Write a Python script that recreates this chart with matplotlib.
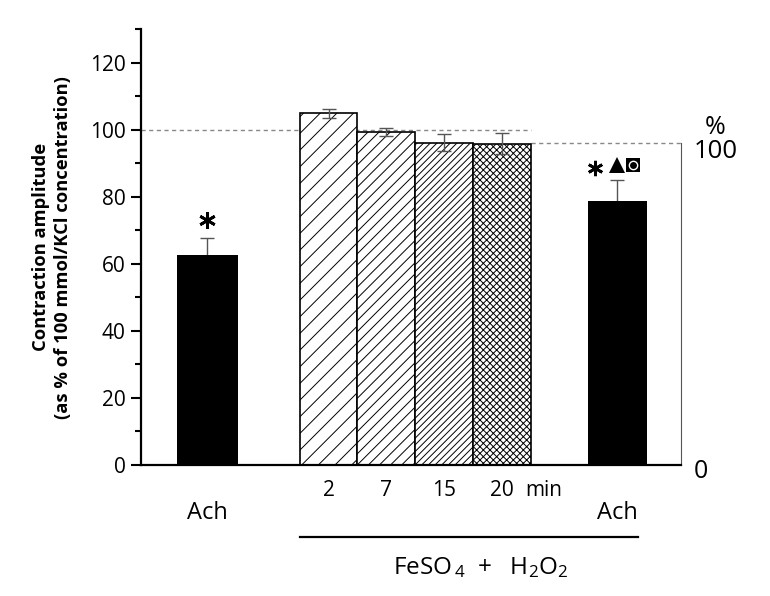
import matplotlib
matplotlib.use("Agg")
import matplotlib.pyplot as plt
import numpy as np

# ---- data ----
categories = ["Ach", "2", "7", "15", "20", "Ach"]
values = [62.5, 104.9, 99.3, 96.2, 95.9, 78.7]
errors = [5.1, 1.4, 1.3, 2.6, 3.2, 6.2]
yticks = [0, 20, 40, 60, 80, 100, 120]
ref_left = 100
ref_right = 96

# ---- style ----
positions = [0, 2.1, 3.1, 4.1, 5.1, 7.1]
widths = [1.06, 1.0, 1.0, 1.0, 1.0, 1.02]
hatches = [None, "//", "///", "/////", "xxxxx", None]
faces = ["black", "white", "white", "white", "white", "black"]

plt.rcParams["font.family"] = ["Open Sans", "DejaVu Sans"]
plt.rcParams["mathtext.default"] = "regular"
plt.rcParams["hatch.linewidth"] = 0.7
plt.rcParams["hatch.color"] = "#333333"

fig = plt.figure(figsize=(7.70, 5.96), dpi=100)
ax = fig.add_axes([0.183, 0.2198, 0.701, 0.7312])
ax.set_xlim(-1.15, 8.2)
ax.set_ylim(0, 130)

# error bars behind black bars
for i in (0, 5):
    ax.errorbar(positions[i], values[i], yerr=errors[i], fmt="none",
                ecolor="#555555", elinewidth=1, capsize=5, capthick=1, zorder=1)

for p, v, w, h, f in zip(positions, values, widths, hatches, faces):
    ax.bar(p, v, width=w, color=f, edgecolor="black", hatch=h,
           linewidth=1.2 if h else 0, zorder=2)

for i in (1, 2, 3, 4):
    ax.errorbar(positions[i], values[i], yerr=errors[i], fmt="none",
                ecolor="#555555", elinewidth=1, capsize=5, capthick=1, zorder=3)

# reference dashed lines
ax.plot([-1.15, positions[4] + 0.5], [ref_left, ref_left], ls=(0, (3, 2.5)),
        color="#888888", lw=1, zorder=0.5)
ax.plot([positions[4] + 0.5, 8.2], [ref_right, ref_right], ls=(0, (3, 2.5)),
        color="#888888", lw=1, zorder=0.5)

# spines
ax.spines["top"].set_visible(False)
ax.spines["left"].set_linewidth(1.6)
ax.spines["bottom"].set_linewidth(1.6)
ax.spines["right"].set_bounds(0, ref_right)
ax.spines["right"].set_linewidth(0.8)
ax.spines["right"].set_color("#555555")

ax.set_yticks(yticks)
ax.set_yticks(np.arange(0, 131, 10), minor=True)
ax.tick_params(axis="y", which="major", length=7, width=1.5, labelsize=15, pad=4)
ax.tick_params(axis="y", which="minor", length=4, width=1.5)
ax.set_xticks([])

ax.set_ylabel("Contraction amplitude\n(as % of 100 mmol/KCl concentration)",
              fontsize=13.2, fontweight="bold", labelpad=13, linespacing=1.25)

# category labels
label_y = {0: -14.2, 5: -14.2}
for i, c in enumerate(categories):
    y = label_y.get(i, -7.5)
    fs = 17 if i in label_y else 15
    ax.text(positions[i], y, c, ha="center", va="center", fontsize=fs, clip_on=False)
ax.text(positions[4] + 0.72, -7.5, "min", ha="center", va="center", fontsize=15, clip_on=False)

# group line and label
ax.plot([positions[1] - 0.5, 7.46], [-21.4, -21.4], color="black", lw=1.6, clip_on=False)
ax.text(4.74, -30.5, r"FeSO$_{\,4}$  +   H$_2$O$_2$", ha="center", va="center",
        fontsize=17.5, clip_on=False)

# right scale labels
ax.text(8.42, -1.8, "0", ha="left", va="center", fontsize=18, clip_on=False)
ax.text(8.42, 93.5, "100", ha="left", va="center", fontsize=18.5, clip_on=False)
ax.text(8.80, 100.8, "%", ha="center", va="center", fontsize=18, clip_on=False)

# significance marks
ax.plot(positions[0], 73, marker=(6, 2, 0), ms=12, mew=2.0, color="black", clip_on=False)
ax.plot(positions[5] - 0.38, 88.7, marker=(6, 2, 0), ms=11, mew=2.0, color="black")
ax.plot(positions[5], 89.6, marker="^", ms=12, color="black", mew=0)
ax.plot(positions[5] + 0.27, 89.5, marker="s", ms=10, color="black", mew=0)
ax.plot(positions[5] + 0.27, 89.5, marker="o", ms=6, mfc="black", mec="white", mew=1)

fig.savefig("out.png", dpi=100)
